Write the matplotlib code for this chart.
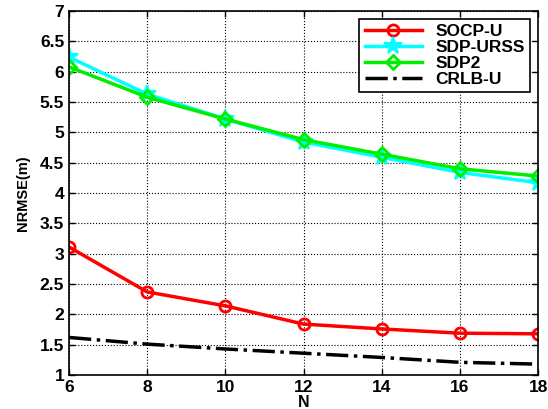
import numpy as np
import matplotlib
matplotlib.use('Agg')
import matplotlib.pyplot as plt

plt.rcParams['font.family'] = ['Liberation Sans', 'DejaVu Sans']
plt.rcParams['font.weight'] = 'bold'

N = [6, 8, 10, 12, 14, 16, 18]
socp_u = [3.11, 2.37, 2.14, 1.84, 1.76, 1.69, 1.68]
sdp_urss = [6.24, 5.63, 5.22, 4.84, 4.59, 4.34, 4.17]
sdp2 = [6.08, 5.58, 5.22, 4.88, 4.64, 4.40, 4.28]
crlb_u = [1.62, 1.51, 1.43, 1.36, 1.29, 1.21, 1.18]

fig = plt.figure(figsize=(5.48, 4.09), dpi=100)
ax = fig.add_axes([0.126, 0.083, 0.856, 0.890])

ax.plot(N, socp_u, '-o', color='red', lw=2.5, ms=8, mfc='none', mew=2, label='SOCP-U')
ax.plot(N, sdp_urss, '-*', color='cyan', lw=2.5, ms=13, mew=1.5, label='SDP-URSS')
ax.plot(N, sdp2, '-D', color='#00ee00', lw=2.5, ms=7, mfc='none', mew=2, label='SDP2')
ax.plot(N, crlb_u, '-.', color='black', lw=2.5, label='CRLB-U')

ax.set_xlim(6, 18)
ax.set_ylim(1, 7)
ax.set_xticks(np.arange(6, 19, 2))
ax.set_yticks(np.arange(1, 7.01, 0.5))
ax.set_yticklabels(['1', '1.5', '2', '2.5', '3', '3.5', '4', '4.5', '5', '5.5', '6', '6.5', '7'])
ax.tick_params(direction='in', top=True, right=True, labelsize=12.5, width=1, length=4)
ax.grid(True, linestyle=':', color='black', lw=0.8)
for s in ax.spines.values():
    s.set_linewidth(1.2)

ax.set_xlabel('N', fontsize=11.5, fontweight='bold', labelpad=0)
ax.set_ylabel('NRMSE(m)', fontsize=10.5, fontweight='bold', labelpad=7)

leg = ax.legend(loc='upper right', fontsize=12.5, fancybox=False, edgecolor='black',
                framealpha=1, handlelength=3.3, borderaxespad=0.45, labelspacing=0.05,
                borderpad=0.3)
leg.get_frame().set_linewidth(1.2)

fig.savefig('out.png', dpi=100)
